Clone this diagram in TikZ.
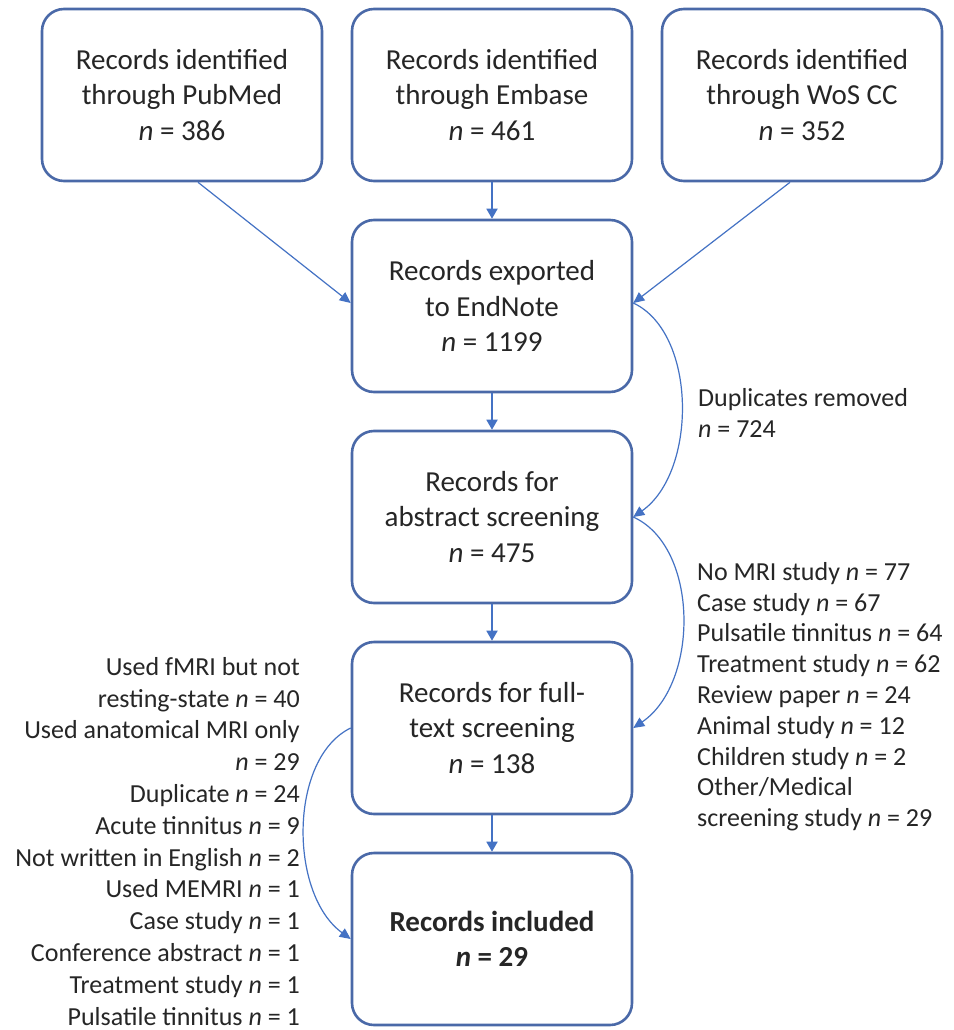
\documentclass[tikz,border=0pt]{standalone}
\usepackage{fontspec}
\setmainfont{Carlito}
\usetikzlibrary{arrows.meta,calc}
\definecolor{boxline}{HTML}{4A69A8}
\definecolor{arrowc}{HTML}{4472C4}
\definecolor{txt}{HTML}{262626}
\begin{document}
\begin{tikzpicture}[x=1pt,y=-1pt,
  stagebox/.style={draw=boxline, line width=2.6pt, rounded corners=22pt,
    minimum width=280pt, minimum height=172pt, inner sep=0pt,
    align=center, text=txt, font=\fontsize{29}{35.5}\selectfont},
  flow/.style={draw=arrowc, line width=1.8pt,
    -{Triangle[length=10pt,width=11pt]}},
  thinflow/.style={draw=arrowc, line width=1.2pt,
    -{Triangle[length=11pt,width=10pt]}},
  sidenote/.style={inner sep=0pt, text=txt}]
\useasboundingbox (0,0) rectangle (953,1030);
\fill[white] (0,0) rectangle (953,1030);

% database searches
\node[stagebox] (pub) at (182,95) {Records identified\\through PubMed\\\textit{n} = 386};
\node[stagebox] (emb) at (492,95) {Records identified\\through Embase\\\textit{n} = 461};
\node[stagebox] (wos) at (802,95) {Records identified\\through WoS CC\\\textit{n} = 352};

% screening stages
\node[stagebox] (exp) at (492,306) {Records exported\\to EndNote\\\textit{n} = 1199};
\node[stagebox] (abs) at (492,517) {Records for\\abstract screening\\\textit{n} = 475};
\node[stagebox] (ful) at (492,728) {Records for full-\\text screening\\\textit{n} = 138};
\node[stagebox] (inc) at (492,939) {\textbf{Records included}\\\textbf{\textit{n} = 29}};

% exclusion notes
\node[sidenote, anchor=north west, align=left,
  font=\fontsize{26}{31}\selectfont] (dup) at (698,388)
  {Duplicates removed\\\textit{n} = 724};
\node[sidenote, anchor=north west, align=left,
  font=\fontsize{26}{30.8}\selectfont] (absx) at (697,562)
  {No MRI study \textit{n} = 77\\
   Case study \textit{n} = 67\\
   Pulsatile tinnitus \textit{n} = 64\\
   Treatment study \textit{n} = 62\\
   Review paper \textit{n} = 24\\
   Animal study \textit{n} = 12\\
   Children study \textit{n} = 2\\
   Other/Medical\\
   screening study \textit{n} = 29};
\node[sidenote, anchor=north east, align=right,
  font=\fontsize{26}{31.8}\selectfont] (fulx) at (300,657)
  {Used fMRI but not\\
   resting-state \textit{n} = 40\\
   Used anatomical MRI only\\
   \textit{n} = 29\\
   Duplicate \textit{n} = 24\\
   Acute tinnitus \textit{n} = 9\\
   Not written in English \textit{n} = 2\\
   Used MEMRI \textit{n} = 1\\
   Case study \textit{n} = 1\\
   Conference abstract \textit{n} = 1\\
   Treatment study \textit{n} = 1\\
   Pulsatile tinnitus \textit{n} = 1};

% connectors
\draw[thinflow] ($(pub.south)+(16,0)$) -- ($(exp.west)+(0,-3)$);
\draw[flow] (emb.south) -- (exp.north);
\draw[thinflow] ($(wos.south)+(-12,0)$) -- ($(exp.east)+(0,-3)$);
\draw[flow] (exp.south) -- (abs.north);
\draw[flow] (abs.south) -- (ful.north);
\draw[flow] (ful.south) -- (inc.north);

\draw[thinflow] ($(exp.east)+(0,-3)$) .. controls +(64,30) and +(64,-45) .. (abs.east);
\draw[thinflow] (abs.east) .. controls +(66,30) and +(66,-45) .. (ful.east);
\draw[thinflow] (ful.west) .. controls +(-62,30) and +(-62,-45) .. (inc.west);
\end{tikzpicture}
\end{document}
